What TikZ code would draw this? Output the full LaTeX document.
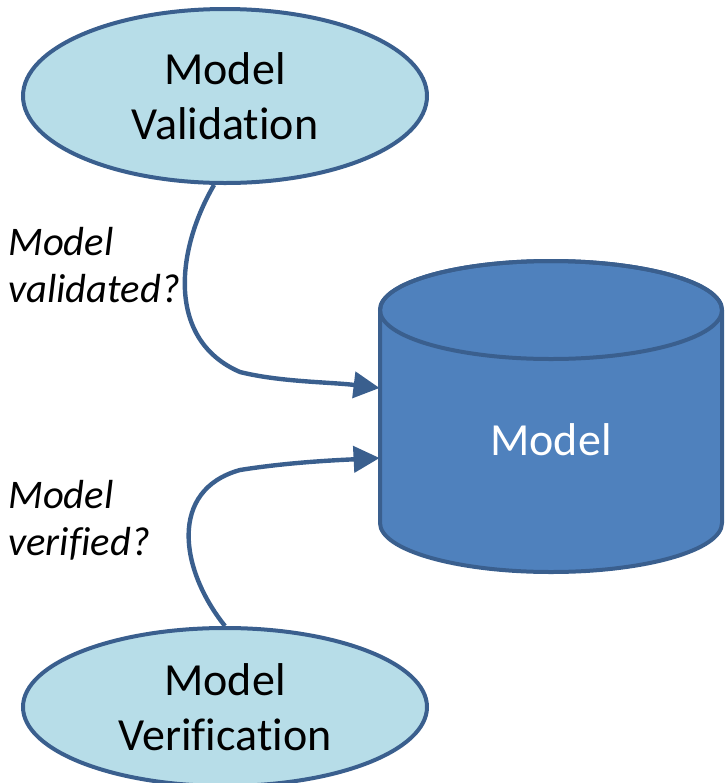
\documentclass[tikz,border=0pt]{standalone}
\usepackage{fontspec}
\setmainfont{Carlito}[Ligatures=NoCommon]
\usetikzlibrary{positioning,shapes.geometric,arrows.meta}
\definecolor{rim}{HTML}{3A5F8E}
\definecolor{paleblue}{HTML}{B7DDE8}
\definecolor{dbblue}{HTML}{4F81BD}

\begin{document}
\begin{tikzpicture}
    [x=0.5pt,y=-0.5pt,
     task/.style={draw=rim, line width=2pt, fill=paleblue, ellipse, inner sep=0pt, minimum width=202pt, align=center, font=\fontsize{23}{27.5}\selectfont},
     query/.style={align=left, inner sep=0pt, anchor=west, font=\fontsize{20.3}{23.5}\selectfont\itshape},
     flow/.style={draw=rim, line width=2.2pt, -{Triangle[length=13pt,width=13pt]}}]
  \useasboundingbox (0,0) rectangle (725,783);

  \node[task, minimum height=87pt] (vt) at (225,96) {Model\\Validation};
  \node[task, minimum height=79pt] (vf) at (225,707) {Model\\Verification};

  % the model store
  \filldraw[draw=rim, fill=dbblue, line width=2pt]
    (380,310) -- (380,523) arc[start angle=180, end angle=0, x radius=171, y radius=49]
    -- (722,310) arc[start angle=0, end angle=-180, x radius=171, y radius=49] -- cycle;
  \draw[rim, line width=2pt] (551,310) ellipse[x radius=171, y radius=49];
  \node[text=white, font=\fontsize{23}{27.5}\selectfont, minimum width=171pt] (model) at (551,440) {Model};

  \draw[flow] (vt.263) .. controls (176,250) and (166,340) .. (240,372)
    .. controls (280,382) and (330,382) .. ([yshift=26pt]model.west);
  \draw[flow] (vf.north) .. controls (180,570) and (168,490) .. (240,470)
    .. controls (290,462) and (340,460) .. ([yshift=-9pt]model.west);

  \node[query] (qa) at (8,265) {Model\\validated?};
  \node[query] (qb) at (8,520) {Model\\verified?};
\end{tikzpicture}
\end{document}
